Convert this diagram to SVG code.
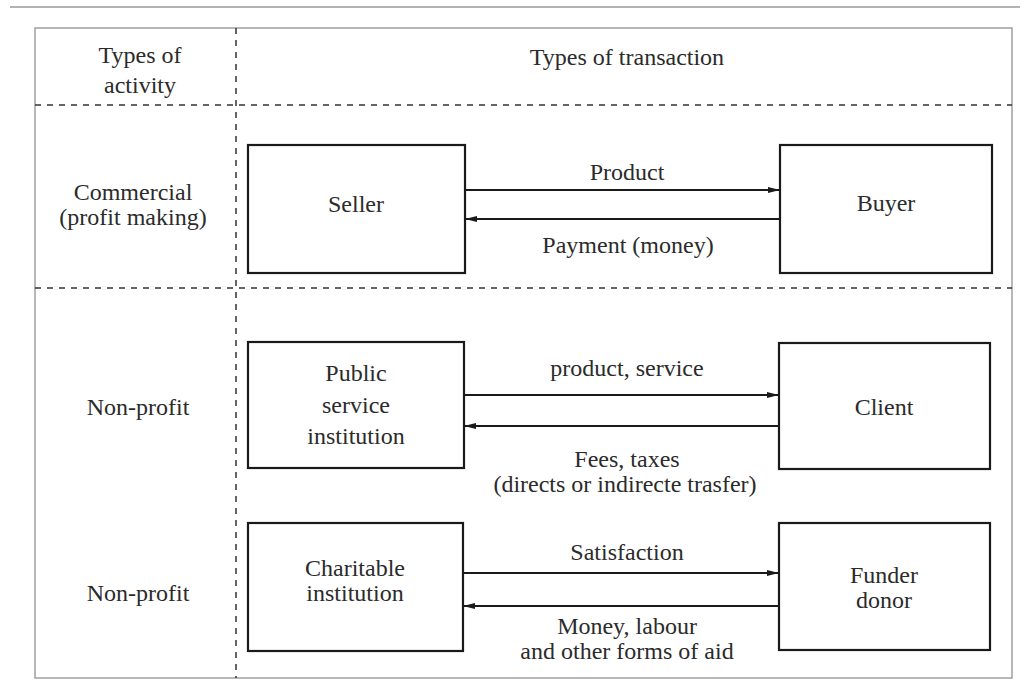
<svg xmlns="http://www.w3.org/2000/svg" width="1029" height="698" viewBox="0 0 1029 698">
  <style>
    .t { font-family: "Liberation Serif", "Times New Roman", serif; font-size: 24px; fill: #2b2b2b; text-anchor: middle; }
    .box { fill: #ffffff; stroke: #1a1a1a; stroke-width: 2.2; }
    .dash { stroke: #333333; stroke-width: 1.5; stroke-dasharray: 6 6; fill: none; }
    .frame { stroke: #a0a0a0; stroke-width: 1.5; fill: none; }
    .arr { stroke: #1a1a1a; stroke-width: 2; fill: none; marker-end: url(#ah); }
  </style>
  <defs>
    <marker id="ah" viewBox="0 0 12 8" refX="12" refY="4" markerWidth="12" markerHeight="8" markerUnits="userSpaceOnUse" orient="auto">
      <path d="M0,1 L12,4 L0,7 Z" fill="#1a1a1a"/>
    </marker>
  </defs>
  <rect width="1029" height="698" fill="#ffffff"/>

  <g id="table">
    <line x1="10" y1="7" x2="1020" y2="7" stroke="#9a9a9a" stroke-width="1.5"/>
    <rect class="frame" x="35" y="28" width="977" height="650"/>
    <line class="dash" x1="236" y1="28" x2="236" y2="678"/>
    <line class="dash" x1="35" y1="105" x2="1012" y2="105"/>
    <line class="dash" x1="35" y1="288" x2="1012" y2="288"/>
  </g>

  <g id="headers">
    <text class="t" x="140" y="63">Types of</text>
    <text class="t" x="140" y="93">activity</text>
    <text class="t" x="627" y="65">Types of transaction</text>
    <text class="t" x="133" y="200">Commercial</text>
    <text class="t" x="133" y="225">(profit making)</text>
    <text class="t" x="138" y="415">Non-profit</text>
    <text class="t" x="138" y="601">Non-profit</text>
  </g>

  <g id="seller">
    <rect class="box" x="248" y="145" width="217" height="128"/>
    <text class="t" x="356" y="212">Seller</text>
  </g>
  <g id="buyer">
    <rect class="box" x="780" y="145" width="212" height="128"/>
    <text class="t" x="886" y="211">Buyer</text>
  </g>
  <g id="public">
    <rect class="box" x="248" y="342" width="216" height="126"/>
    <text class="t" x="356" y="381">Public</text>
    <text class="t" x="356" y="413">service</text>
    <text class="t" x="356" y="444">institution</text>
  </g>
  <g id="client">
    <rect class="box" x="779" y="343" width="211" height="126"/>
    <text class="t" x="884" y="415">Client</text>
  </g>
  <g id="charitable">
    <rect class="box" x="248" y="523" width="215" height="128"/>
    <text class="t" x="355" y="576">Charitable</text>
    <text class="t" x="355" y="601">institution</text>
  </g>
  <g id="funder">
    <rect class="box" x="779" y="523" width="211" height="127"/>
    <text class="t" x="884" y="583">Funder</text>
    <text class="t" x="884" y="608">donor</text>
  </g>

  <g id="connectors">
    <line class="arr" x1="465" y1="190" x2="780" y2="190"/>
    <line class="arr" x1="780" y1="219" x2="465" y2="219"/>
    <line class="arr" x1="464" y1="395" x2="779" y2="395"/>
    <line class="arr" x1="779" y1="426" x2="464" y2="426"/>
    <line class="arr" x1="463" y1="573" x2="779" y2="573"/>
    <line class="arr" x1="779" y1="606" x2="463" y2="606"/>
    <text class="t" x="627" y="180">Product</text>
    <text class="t" x="628" y="253">Payment (money)</text>
    <text class="t" x="627" y="376">product, service</text>
    <text class="t" x="627" y="467">Fees, taxes</text>
    <text class="t" x="625" y="492">(directs or indirecte trasfer)</text>
    <text class="t" x="627" y="560">Satisfaction</text>
    <text class="t" x="627" y="634">Money, labour</text>
    <text class="t" x="627" y="659">and other forms of aid</text>
  </g>
</svg>
